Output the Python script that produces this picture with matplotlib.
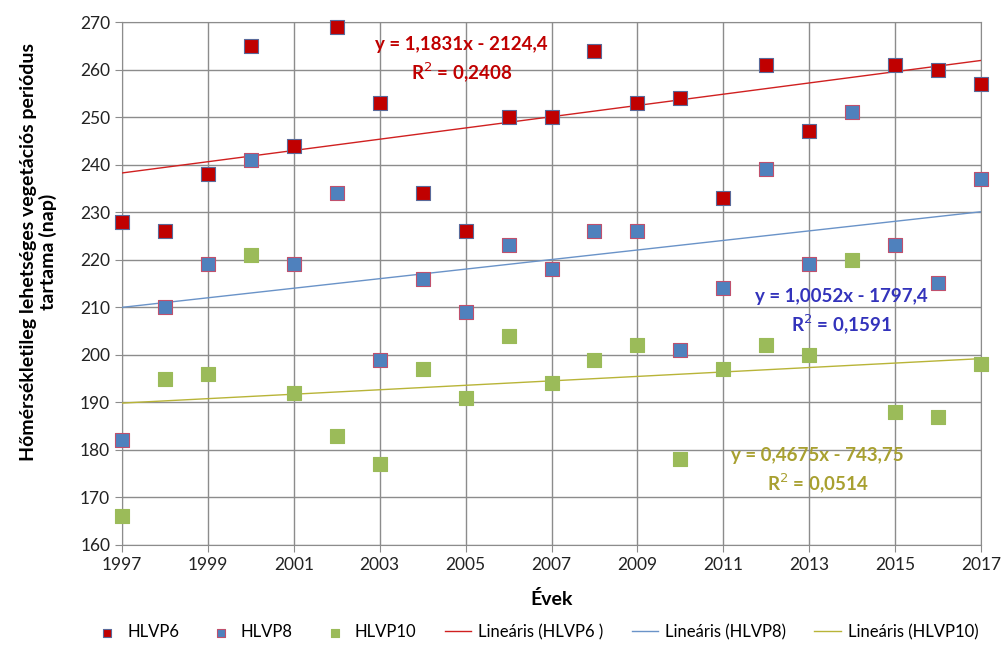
import numpy as np
import matplotlib
matplotlib.use('Agg')
import matplotlib.pyplot as plt

plt.rcParams['font.family'] = ['Lato', 'DejaVu Sans']

# adatok
years = list(range(1997, 2018))
hlvp6_years = [1997, 1998, 1999, 2000, 2001, 2002, 2003, 2004, 2005, 2006, 2007,
               2008, 2009, 2010, 2011, 2012, 2013, 2015, 2016, 2017]
hlvp6 = [228, 226, 238, 265, 244, 269, 253, 234, 226, 250, 250,
         264, 253, 254, 233, 261, 247, 261, 260, 257]
hlvp8 = [182, 210, 219, 241, 219, 234, 199, 216, 209, 223, 218,
         226, 226, 201, 214, 239, 219, 251, 223, 215, 237]
hlvp10 = [166, 195, 196, 221, 192, 183, 177, 197, 191, 204, 194,
          199, 202, 178, 197, 202, 200, 220, 188, 187, 198]

# trendvonalak (a diagramon feltüntetett egyenletek)
trend_slope = [1.1831, 1.0052, 0.4675]
trend_icpt = [-2124.4, -1797.4, -743.75]
trend_eq = ['y = 1,1831x - 2124,4', 'y = 1,0052x - 1797,4', 'y = 0,4675x - 743,75']
trend_r2 = ['R$^2$ = 0,2408', 'R$^2$ = 0,1591', 'R$^2$ = 0,0514']

fig = plt.figure(figsize=(10.02, 6.53), dpi=100)
ax = fig.add_axes([0.1218, 0.1654, 0.8572, 0.8009])

grid_c = '#8c8c8c'
ax.scatter(hlvp6_years, hlvp6, marker='s', s=88, color='#C00000', edgecolors='#5a6a9a',
           linewidths=0.8, label='HLVP6', zorder=4, clip_on=False)
ax.scatter(years, hlvp8, marker='s', s=88, color='#4F81BD', edgecolors='#C0506D',
           linewidths=0.8, label='HLVP8', zorder=4, clip_on=False)
ax.scatter(years, hlvp10, marker='s', s=88, color='#9BBB59', edgecolors='#9BBB59',
           linewidths=0.8, label='HLVP10', zorder=4, clip_on=False)

x = np.array([1997, 2017])
line_cols = ['#D02020', '#6A93C8', '#B8B438']
line_labels = ['Lineáris (HLVP6 )', 'Lineáris (HLVP8)', 'Lineáris (HLVP10)']
for k in range(3):
    ax.plot(x, trend_slope[k] * x + trend_icpt[k], color=line_cols[k], lw=1.0,
            label=line_labels[k], zorder=3)

txt_cols = ['#C00000', '#3333BB', '#A8A030']
txt_pos = [(2004.9, 265.2), (2013.75, 212.2), (2013.2, 178.8)]
for k in range(3):
    ax.text(txt_pos[k][0], txt_pos[k][1], trend_eq[k], color=txt_cols[k], fontsize=13.5,
            fontweight='bold', ha='center', va='center', zorder=5)
    ax.text(txt_pos[k][0], txt_pos[k][1] - 5.7, trend_r2[k], color=txt_cols[k], fontsize=13.5,
            fontweight='bold', ha='center', va='center', zorder=5)

ax.set_xlim(1997, 2017)
ax.set_ylim(160, 270)
ax.set_xticks(range(1997, 2018, 2))
ax.set_yticks(range(160, 271, 10))
ax.grid(True, color=grid_c, lw=1.0)
ax.set_axisbelow(True)
for sp in ax.spines.values():
    sp.set_color(grid_c)
ax.tick_params(axis='both', colors=grid_c, labelcolor='#222222', labelsize=12.5, length=5)

ax.set_xlabel('Évek', fontsize=14, fontweight='bold')
ax.xaxis.set_label_coords(0.5, -0.087)
ax.set_ylabel('Hőmérsékletileg lehetséges vegetációs periódus\ntartama (nap)',
              fontsize=14, fontweight='bold', va='center', linespacing=1.15)
ax.yaxis.set_label_coords(-0.097, 0.56)

fig.legend(loc='center', bbox_to_anchor=(0.535, 0.032), ncol=6, frameon=False,
           fontsize=12, handlelength=1.6, columnspacing=1.7, handletextpad=0.4,
           markerscale=0.65)

plt.savefig('out.png', dpi=100)
